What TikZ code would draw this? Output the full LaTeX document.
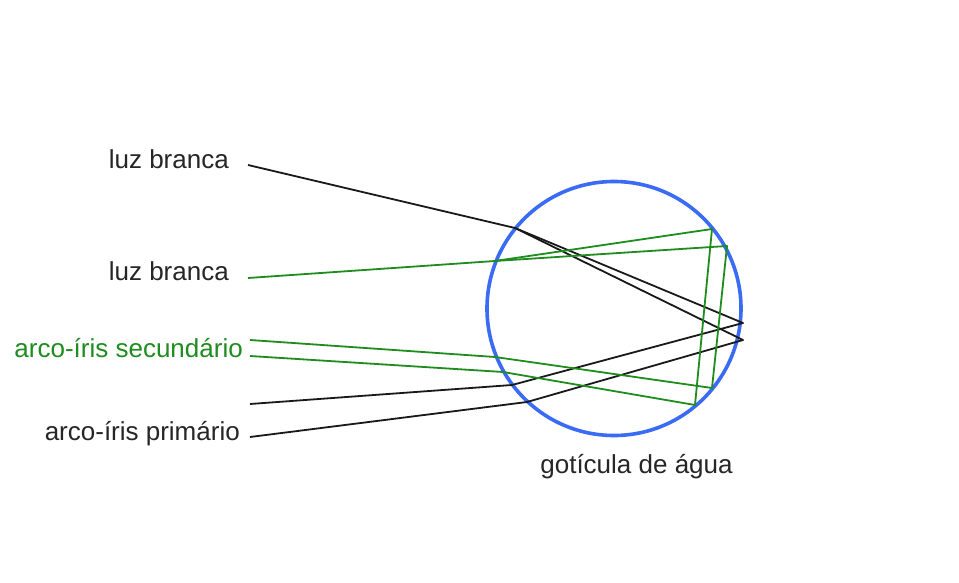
\documentclass[tikz,border=0pt]{standalone}
\usepackage{fontspec}
\setmainfont{Liberation Sans}
\usetikzlibrary{positioning}
\definecolor{dropblue}{HTML}{3A6BF5}
\definecolor{raygreen}{HTML}{1E8C1E}
\tikzset{
  caption/.style={font=\fontsize{26}{28}\selectfont, inner sep=0pt, anchor=base east, text=black!85},
  drop/.style={circle, draw=dropblue, line width=3.6pt, minimum size=254pt, inner sep=0pt},
  ray/.style={line width=1.8pt, black!90, line join=round},
  secray/.style={line width=1.8pt, raygreen, line join=round}
}

\begin{document}
\begin{tikzpicture}[x=1pt, y=-1pt]
  \useasboundingbox (0,0) rectangle (959,583);
  \fill[white] (0,0) rectangle (959,583);

  % the drop
  \node[drop] (drop) at (614,308.5) {};
  \node[caption, anchor=base] (droptext) at (636.5,473) {gotícula de água};

  % primary bow: one reflection at the back
  \coordinate (p0) at (248,165);
  \coordinate (pin) at (515,228);
  \coordinate (pb1) at (743,323);
  \coordinate (pb2) at (743,340);
  \coordinate (po1) at (512,385);
  \coordinate (po2) at (527,402);
  \coordinate (pe1) at (250,404);
  \coordinate (pe2) at (250,437);

  % secondary bow: two reflections
  \coordinate (s0) at (248,278);
  \coordinate (sin) at (495,261);
  \coordinate (st1) at (712,229);
  \coordinate (st2) at (727,246);
  \coordinate (sb1) at (695,405);
  \coordinate (sb2) at (712,388);
  \coordinate (so1) at (495,357);
  \coordinate (so2) at (503,372);
  \coordinate (se1) at (250,340);
  \coordinate (se2) at (250,356);

  \node[caption] (white1) at (229,169) {luz branca};
  \node[caption] (white2) at (229,280) {luz branca};
  \node[caption, text=raygreen] (second) at (243,357) {arco-íris secundário};
  \node[caption] (first) at (240,440) {arco-íris primário};

  \draw[ray] (p0) -- (pin) -- (pb1) -- (po1) -- (pe1);
  \draw[ray] (pin) -- (pb2) -- (po2) -- (pe2);
  \draw[secray] (s0) -- (sin) -- (st1) -- (sb1) -- (so2) -- (se2);
  \draw[secray] (sin) -- (st2) -- (sb2) -- (so1) -- (se1);
\end{tikzpicture}
\end{document}
